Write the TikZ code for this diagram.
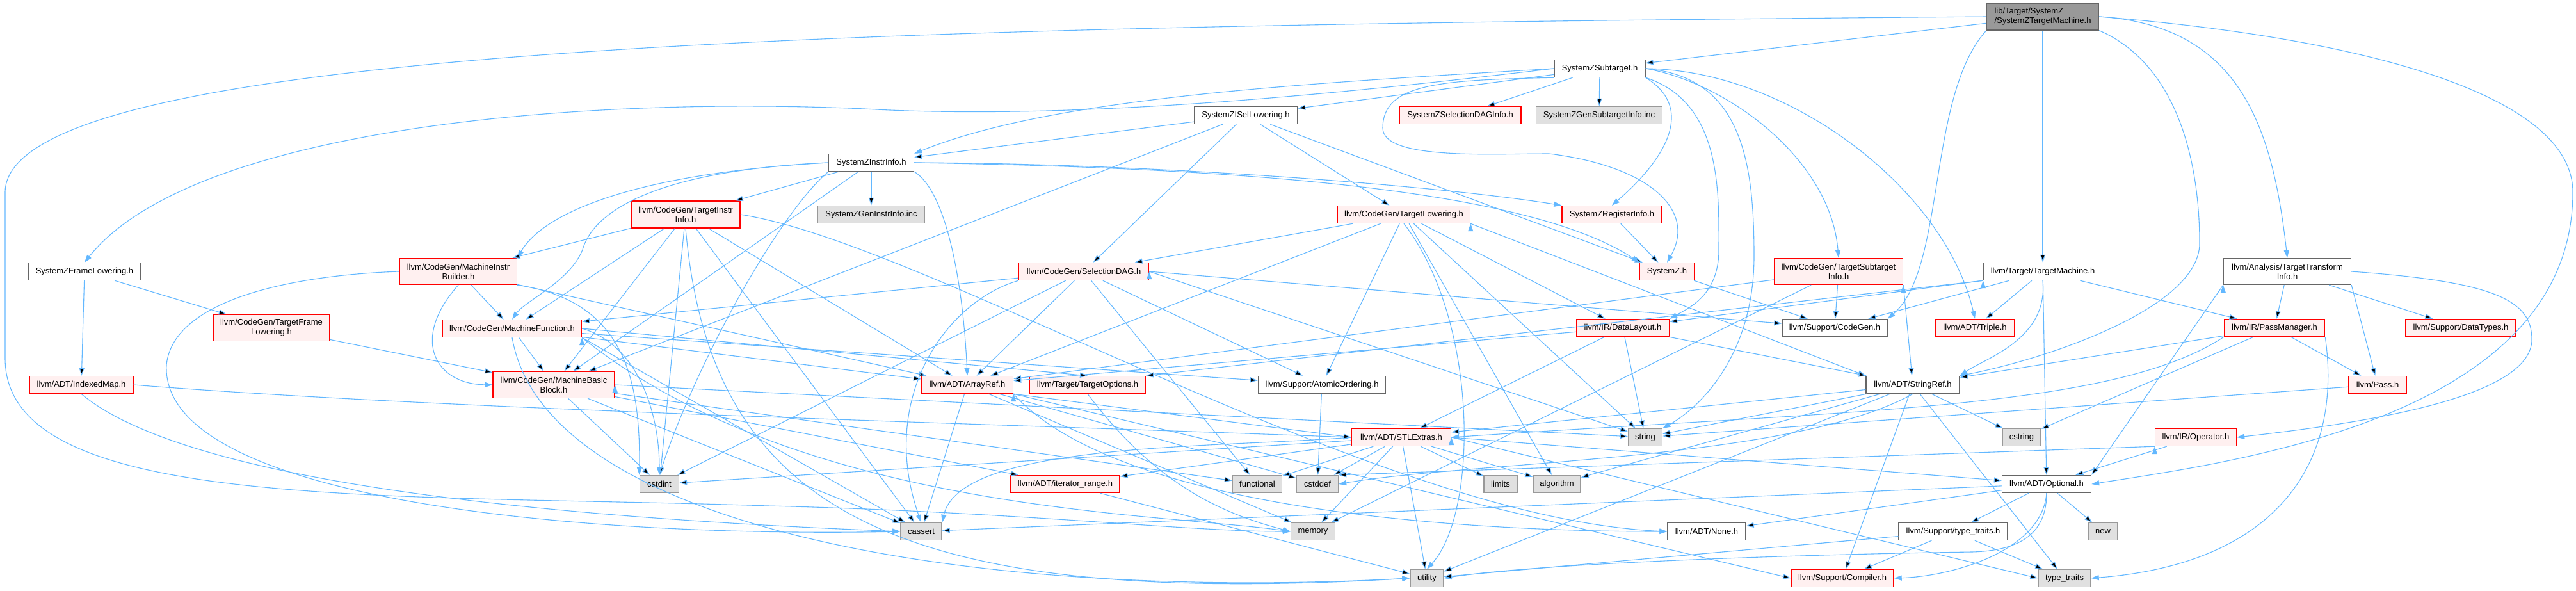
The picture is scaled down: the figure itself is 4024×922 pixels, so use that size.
\documentclass[tikz,border=0pt]{standalone}
\usepackage{fontspec}
\setmainfont{Liberation Sans}
\usepackage{tikz}
\usetikzlibrary{arrows.meta}
\definecolor{dxedge}{RGB}{99,184,255}
\definecolor{dxred}{RGB}{255,0,0}
\definecolor{dxpink}{RGB}{255,240,240}
\definecolor{dxgrey}{RGB}{224,224,224}
\definecolor{dxframe}{RGB}{153,153,153}
\definecolor{dxdark}{RGB}{102,102,102}

\begin{document}
\begin{tikzpicture}[x=1pt, y=-1pt,
      hdr/.style={rectangle, draw, line width=1.4pt, minimum height=27pt, inner sep=0pt, align=center, font=\fontsize{13}{15}\selectfont},
      redhdr/.style={hdr, draw=dxred, fill=dxpink},
      stdhdr/.style={hdr, draw=dxdark, fill=white},
      syshdr/.style={hdr, draw=dxframe, fill=dxgrey},
      mainhdr/.style={hdr, draw=dxdark, fill=dxframe, align=left},
      dep/.style={draw=dxedge, line width=1.1pt, -{Triangle[length=12pt,width=8pt]}}
    ]
      \path[fill=white] (0,0) rectangle (4024,922);
      \useasboundingbox (0,0) rectangle (4024,922);

      % Entry header
      \node[mainhdr, minimum width=175pt, minimum height=42pt] (tm) at (3191,26) {lib/Target/SystemZ\\/SystemZTargetMachine.h};

      % SystemZ target headers
      \node[stdhdr, minimum width=142pt] (sub) at (2499,107) {SystemZSubtarget.h};
      \node[stdhdr, minimum width=161pt] (isel) at (1946,180) {SystemZISelLowering.h};
      \node[redhdr, minimum width=190pt] (seldag) at (2281,180) {SystemZSelectionDAGInfo.h};
      \node[syshdr, minimum width=197pt] (gensub) at (2498,180) {SystemZGenSubtargetInfo.inc};
      \node[stdhdr, minimum width=133pt] (instr) at (1361,254) {SystemZInstrInfo.h};
      \node[syshdr, minimum width=167pt] (geninstr) at (1361,335) {SystemZGenInstrInfo.inc};
      \node[redhdr, minimum width=156pt] (reg) at (2518,335) {SystemZRegisterInfo.h};
      \node[stdhdr, minimum width=176pt] (frame) at (132,424) {SystemZFrameLowering.h};
      \node[redhdr, minimum width=85pt] (sz) at (2604,424) {SystemZ.h};

      % CodeGen headers
      \node[redhdr, minimum width=170pt, minimum height=42pt] (tii) at (1071,335) {llvm/CodeGen/TargetInstr\\Info.h};
      \node[redhdr, minimum width=207pt] (tli) at (2193,335) {llvm/CodeGen/TargetLowering.h};
      \node[redhdr, minimum width=183pt, minimum height=41pt] (mib) at (716,424) {llvm/CodeGen/MachineInstr\\Builder.h};
      \node[redhdr, minimum width=203pt] (dag) at (1693,424) {llvm/CodeGen/SelectionDAG.h};
      \node[redhdr, minimum width=201pt, minimum height=41pt] (tsi) at (2872,424) {llvm/CodeGen/TargetSubtarget\\Info.h};
      \node[stdhdr, minimum width=185pt] (ttm) at (3191,424) {llvm/Target/TargetMachine.h};
      \node[stdhdr, minimum width=199pt, minimum height=41pt] (tti) at (3573,424) {llvm/Analysis/TargetTransform\\Info.h};
      \node[redhdr, minimum width=181pt, minimum height=41pt] (tfl) at (424,512) {llvm/CodeGen/TargetFrame\\Lowering.h};
      \node[redhdr, minimum width=217pt] (mf) at (800,513) {llvm/CodeGen/MachineFunction.h};
      \node[redhdr, minimum width=145pt] (dl) at (2535,512) {llvm/IR/DataLayout.h};
      \node[stdhdr, minimum width=164pt] (cg) at (2866,512) {llvm/Support/CodeGen.h};
      \node[redhdr, minimum width=123pt] (triple) at (3085,512) {llvm/ADT/Triple.h};
      \node[redhdr, minimum width=157pt] (pm) at (3553,512) {llvm/IR/PassManager.h};
      \node[redhdr, minimum width=172pt] (dt) at (3844,512) {llvm/Support/DataTypes.h};
      \node[redhdr, minimum width=190pt, minimum height=41pt] (mbb) at (865,601) {llvm/CodeGen/MachineBasic\\Block.h};

      % ADT and Support headers
      \node[redhdr, minimum width=162pt] (imap) at (127,601) {llvm/ADT/IndexedMap.h};
      \node[redhdr, minimum width=143pt] (aref) at (1511,601) {llvm/ADT/ArrayRef.h};
      \node[redhdr, minimum width=181pt] (topt) at (1699,601) {llvm/Target/TargetOptions.h};
      \node[stdhdr, minimum width=199pt] (atom) at (2065,601) {llvm/Support/AtomicOrdering.h};
      \node[stdhdr, minimum width=146pt] (sref) at (2988,601) {llvm/ADT/StringRef.h};
      \node[redhdr, minimum width=91pt] (pass) at (3714,601) {llvm/Pass.h};
      \node[redhdr, minimum width=155pt] (stl) at (2189,683) {llvm/ADT/STLExtras.h};
      \node[redhdr, minimum width=127pt] (op) at (3430,683) {llvm/IR/Operator.h};
      \node[redhdr, minimum width=170pt] (itr) at (1664,756) {llvm/ADT/iterator\_range.h};
      \node[stdhdr, minimum width=139pt] (opt) at (3197,756) {llvm/ADT/Optional.h};
      \node[stdhdr, minimum width=122pt] (nonehdr) at (2666,830) {llvm/ADT/None.h};
      \node[stdhdr, minimum width=170pt] (tt) at (3051,830) {llvm/Support/type\_traits.h};
      \node[redhdr, minimum width=160pt] (comp) at (2878,903) {llvm/Support/Compiler.h};

      % System headers
      \node[syshdr, minimum width=53pt] (str) at (2570,683) {string};
      \node[syshdr, minimum width=60pt] (cstring) at (3158,683) {cstring};
      \node[syshdr, minimum width=61pt] (cstdint) at (1030,756) {cstdint};
      \node[syshdr, minimum width=77pt] (functional) at (1964,756) {functional};
      \node[syshdr, minimum width=65pt] (cstddef) at (2058,756) {cstddef};
      \node[syshdr, minimum width=52pt] (limits) at (2344,756) {limits};
      \node[syshdr, minimum width=74pt] (algorithm) at (2432,756) {algorithm};
      \node[syshdr, minimum width=64pt] (cassert) at (1439,830) {cassert};
      \node[syshdr, minimum width=69pt] (memory) at (2051,830) {memory};
      \node[syshdr, minimum width=45pt] (newhdr) at (3285,830) {new};
      \node[syshdr, minimum width=52pt] (utility) at (2229,903) {utility};
      \node[syshdr, minimum width=82pt] (ttr) at (3225,903) {type\_traits};

      % Entry includes
      \path[dep] (tm) edge (sub) edge (ttm);
      \draw[dep] (tm.east) .. controls (3500,40) and (3550,200) .. (tti.north);
      \draw[dep] (tm.south east) .. controls (3400,100) and (3436,250) .. (3436,380) .. controls (3436,480) and (3200,560) .. (sref.north east);
      \draw[dep] (tm.south west) .. controls (3010,150) and (3040,420) .. (cg.north east);
      \draw[dep] (tm.east) .. controls (3700,60) and (4019,150) .. (4019,300) .. controls (4019,650) and (3500,720) .. (opt.east);
      \draw[dep] (tm.west) .. controls (1500,40) and (10,60) .. (8,300) -- (8,560) .. controls (8,800) and (600,770) .. (1200,790) .. controls (1600,800) and (1850,830) .. (memory.west);

      % SystemZSubtarget.h
      \path[dep] (sub) edge (isel) edge (seldag) edge (gensub);
      \draw[dep] (sub.west) .. controls (2150,140) and (1700,190) .. (1350,170) .. controls (900,150) and (300,200) .. (frame.north);
      \draw[dep] (sub.west) .. controls (2050,130) and (1650,150) .. (instr.north east);
      \draw[dep] (sub.south east) .. controls (2650,170) and (2600,250) .. (reg.north);
      \draw[dep] (sub.south west) .. controls (2250,125) and (2160,130) .. (2160,200) .. controls (2160,250) and (2330,240) .. (2420,240) .. controls (2580,260) and (2650,330) .. (sz.north);
      \draw[dep] (sub.south east) .. controls (2690,160) and (2685,300) .. (2685,390) .. controls (2685,460) and (2640,480) .. (dl.north east);
      \draw[dep] (sub.east) .. controls (2720,120) and (2740,250) .. (2740,400) .. controls (2740,560) and (2650,640) .. (str.north east);
      \draw[dep] (sub.east) .. controls (2800,110) and (3040,300) .. (triple.north);
      \draw[dep] (sub.east) .. controls (2700,130) and (2860,250) .. (tsi.north);

      % SystemZISelLowering.h and SystemZInstrInfo.h
      \path[dep] (isel) edge (instr) edge (dag) edge (tli) edge (mbb) edge (sz);
      \path[dep] (instr) edge (tii) edge (geninstr) edge (mbb);
      \draw[dep] (instr.east) .. controls (1800,255) and (2250,290) .. (reg.north west);
      \draw[dep] (instr.east) .. controls (1900,262) and (2380,290) .. (sz.north west);
      \draw[dep] (instr.south east) .. controls (1480,300) and (1505,450) .. (aref.north);
      \draw[dep] (instr.west) .. controls (1050,265) and (930,320) .. (910,390) .. controls (890,440) and (820,470) .. (mf.north);
      \draw[dep] (instr.west) .. controls (1000,270) and (850,330) .. (mib.north east);
      \draw[dep] (instr.south west) .. controls (1220,330) and (1090,560) .. (cstdint.north);
      \path[dep] (reg) edge (sz);
      \path[dep] (sz) edge (cg);

      % Frame lowering
      \path[dep] (frame) edge (imap) edge (tfl);
      \path[dep] (tfl) edge (mbb);
      \draw[dep] (imap.east) .. controls (700,640) and (1500,660) .. (stl.west);
      \draw[dep] (imap.south) .. controls (300,760) and (900,810) .. (cassert.west);

      % Machine code headers
      \path[dep] (tii) edge (mib) edge (mf) edge (mbb) edge (aref) edge (cassert) edge (cstdint);
      \draw[dep] (tii.east) .. controls (1450,380) and (2150,810) .. (nonehdr.west);
      \draw[dep] (tii.south) .. controls (1110,800) and (1400,950) .. (utility.west);
      \path[dep] (mib) edge (mf) edge (aref);
      \draw[dep] (mib.south) .. controls (640,530) and (680,600) .. (mbb.west);
      \draw[dep] (mib.south east) .. controls (980,470) and (1000,600) .. (cstdint.north west);
      \draw[dep] (mib.west) .. controls (450,430) and (270,470) .. (260,570) .. controls (250,780) and (900,840) .. (cassert.west);
      \path[dep] (mf) edge (mbb) edge (aref) edge (atom) (mf.east) edge (topt.north) (mf.south east) edge (cassert);
      \draw[dep] (mf.south east) .. controls (1250,800) and (1800,800) .. (memory.west);
      \draw[dep] (mf.east) .. controls (1000,540) and (1030,650) .. (cstdint.north);
      \draw[dep] (mf.south) .. controls (850,820) and (1500,940) .. (utility.west);
      \path[dep] (mbb) edge (itr) edge (cassert) edge (cstdint) edge (functional) (mbb.east) edge (str);

      % Lowering headers
      \path[dep] (dag) edge (aref) edge (mf) edge (atom) edge (functional) edge (cstdint) (dag.east) edge (cg) edge (str);
      \draw[dep] (dag.south west) .. controls (1480,470) and (1370,620) .. (cassert.north);
      \path[dep] (tli) edge (dag) edge (aref) edge (dl) edge (atom) edge (algorithm) edge (str) (tli.south east) edge (sref.north west);
      \draw[dep] (tli.south) .. controls (2310,500) and (2310,800) .. (utility.north);
      \path[dep] (tsi) edge (cg) edge (aref) edge (memory) (tsi.south east) edge (sref);
      \path[dep] (dl) edge (aref) edge (stl) edge (sref) edge (str);

      % Target machine and analysis
      \path[dep] (ttm) edge (opt) edge (triple) edge (cg) edge (pm) (ttm.south west) edge (dl) edge (topt.north east);
      \draw[dep] (ttm.south) .. controls (3200,530) and (3100,560) .. (sref.north east);
      \path[dep] (tti) edge (pm) edge (dt) (tti.south east) edge (pass) (tti.south west) edge (opt.north east);
      \draw[dep] (tti.east) .. controls (3900,440) and (3955,470) .. (3955,530) .. controls (3955,620) and (3700,660) .. (op.east);
      \path[dep] (pm) edge (sref) edge (pass) edge (cstring);
      \draw[dep] (pm.south west) .. controls (3300,640) and (2900,640) .. (stl.east);
      \draw[dep] (pm.south east) .. controls (3660,720) and (3560,880) .. (ttr.east);
      \path[dep] (pass) edge (str);
      \path[dep] (op) edge (opt) (op.south west) edge (cstddef.north east);

      % ADT headers
      \path[dep] (sref) edge (stl) edge (str) edge (cstring) edge (algorithm) edge (utility) edge (ttr) edge (comp);
      \draw[dep] (sref.south) .. controls (2800,720) and (2300,720) .. (cstddef.east);
      \path[dep] (stl) edge (itr) edge (algorithm) edge (cstddef) edge (cstdint) edge (functional) edge (limits) edge (memory) edge (utility) (stl.east) edge (opt) edge (ttr.west);
      \draw[dep] (stl.west) .. controls (1900,700) and (1500,690) .. (cassert.north east);
      \path[dep] (aref) edge (cassert) edge (memory) edge (cstddef) (aref.south east) edge (stl.west) edge (comp.west);
      \draw[dep] (aref.south east) .. controls (1750,800) and (2300,830) .. (nonehdr.west);
      \draw[dep] (topt.south) .. controls (1800,750) and (1900,800) .. (memory.west);
      \path[dep] (atom) edge (cstddef);
      \path[dep] (itr) edge (utility);
      \path[dep] (opt) edge (nonehdr) edge (tt) edge (newhdr) edge (cassert);
      \draw[dep] (opt.south) .. controls (3190,860) and (3050,900) .. (comp.east);
      \draw[dep] (opt.south) .. controls (3197,830) and (3160,860) .. (3080,862) .. controls (2800,866) and (2400,880) .. (utility.east);
      \path[dep] (tt) edge (comp) edge (ttr) edge (utility);
    \end{tikzpicture}
\end{document}
